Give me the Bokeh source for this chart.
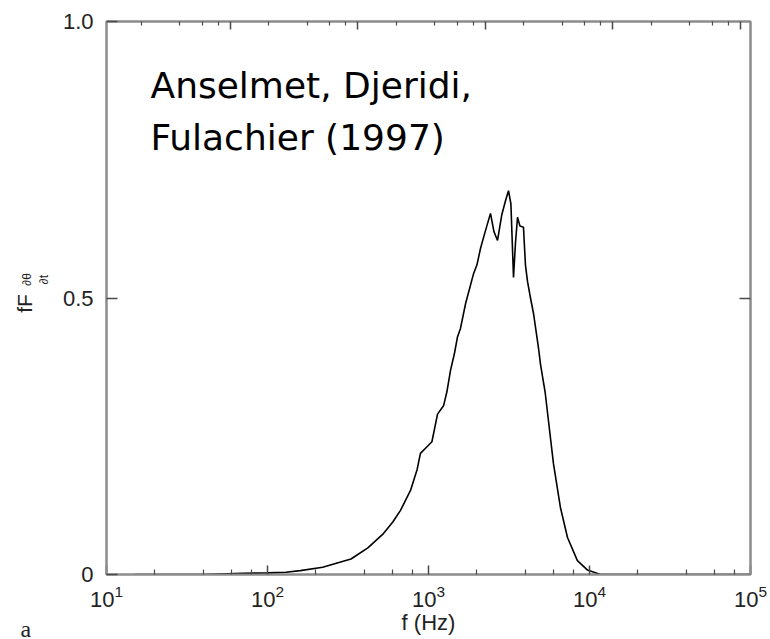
import math
from bokeh.plotting import figure
from bokeh.models import (LogAxis, LinearAxis, FixedTicker, Range1d, LogScale, Label,
                          LogTickFormatter)
from bokeh.embed import file_html
from bokeh.resources import INLINE

# ---- data ----
freq_hz = [15, 20, 40, 70, 100, 130, 160, 220, 330, 420, 525, 600, 670, 773, 850,
           891, 986, 1050, 1138, 1240, 1300, 1370, 1450, 1515, 1580, 1700, 1905,
           2000, 2105, 2250, 2427, 2550, 2684, 2850, 3008, 3140, 3250, 3373, 3470,
           3572, 3700, 3890, 4000, 4120, 4300, 4490, 4820, 4963, 5300, 5560, 5975,
           6600, 7300, 8410, 9720, 11700, 20000, 100000]
f_spectrum = [0.0, 0.0, 0.0, 0.002, 0.003, 0.004, 0.007, 0.013, 0.028, 0.048, 0.074,
              0.095, 0.116, 0.152, 0.19, 0.219, 0.232, 0.24, 0.29, 0.305, 0.33, 0.369,
              0.40, 0.43, 0.445, 0.49, 0.544, 0.56, 0.59, 0.62, 0.653, 0.62, 0.604,
              0.65, 0.676, 0.694, 0.67, 0.537, 0.60, 0.646, 0.63, 0.628, 0.56, 0.53,
              0.50, 0.472, 0.41, 0.38, 0.33, 0.278, 0.2, 0.121, 0.067, 0.025, 0.008,
              0.0, 0.0, 0.0]

x_major = [1e1, 1e2, 1e3, 1e4, 1e5]
y_major = [0, 0.5, 1.0]
y_labels = {0: "0", 0.5: "0.5", 1: "1.0"}
title_lines = ["Anselmet, Djeridi,", "Fulachier (1997)"]

# ---- layout ----
W, H = 770, 639
FL, FR, FT, FB = 106, 750, 21, 574
FRAME_COL = "#8c8c8c"
TICK_COL = "#4a4a4a"
TXT = "#222222"

def sx(px):
    return 10 ** (1 + 4 * (px - FL) / (FR - FL))

def sy(py):
    return (FB - py) / (FB - FT)

p = figure(width=W, height=H, x_axis_type=None, y_axis_type=None,
           x_range=Range1d(10, 1e5), y_range=Range1d(0, 1.0),
           output_backend="svg", toolbar_location=None,
           min_border_left=FL, min_border_right=W - FR,
           min_border_top=FT, min_border_bottom=H - FB)
p.x_scale = LogScale()
p.grid.visible = False
p.background_fill_color = "white"
p.border_fill_color = "white"
p.outline_line_color = FRAME_COL
p.outline_line_width = 2

minor = [k * d for d in [1e1, 1e2, 1e3, 1e4] for k in (2, 4, 6, 8)]

def style_axis(ax, tick_in, minor_in):
    ax.axis_line_color = FRAME_COL
    ax.axis_line_width = 2
    ax.major_tick_line_color = TICK_COL
    ax.major_tick_line_width = 1.5
    ax.minor_tick_line_color = TICK_COL
    ax.minor_tick_line_width = 1.2
    ax.major_tick_in = tick_in
    ax.major_tick_out = 0
    ax.minor_tick_in = minor_in
    ax.minor_tick_out = 0

def hide_labels(ax):
    ax.major_label_text_font_size = "6px"
    ax.major_label_text_alpha = 0
    ax.major_label_standoff = 0

# bottom axis
xb = LogAxis(ticker=FixedTicker(ticks=x_major, minor_ticks=minor),
             formatter=LogTickFormatter())
style_axis(xb, 9, 5)
xb.major_label_text_font = "Liberation Sans"
xb.major_label_text_font_size = "22px"
xb.major_label_text_color = TXT
xb.major_label_standoff = 10
xb.axis_label = "f (Hz)"
xb.axis_label_text_font = "Liberation Sans"
xb.axis_label_text_font_size = "22px"
xb.axis_label_text_font_style = "normal"
xb.axis_label_text_color = TXT
xb.axis_label_standoff = 0
p.add_layout(xb, "below")

# top axis (its own decade spacing, unlabeled)
p.extra_x_ranges = {"top": Range1d(10 ** 1.0275, 10 ** 6.0786)}
p.extra_x_scales = {"top": LogScale()}
top_major = [1e2, 1e3, 1e4, 1e5, 1e6]
top_minor = [k * d for d in [1e1, 1e2, 1e3, 1e4, 1e5] for k in (2, 4, 6, 8)]
xt = LogAxis(x_range_name="top", ticker=FixedTicker(ticks=top_major, minor_ticks=top_minor))
style_axis(xt, 8, 4)
hide_labels(xt)
p.add_layout(xt, "above")

# left axis
yl = LinearAxis(ticker=FixedTicker(ticks=y_major, minor_ticks=[]),
                major_label_overrides=y_labels)
style_axis(yl, 11, 0)
yl.major_label_text_font = "Liberation Sans"
yl.major_label_text_font_size = "22px"
yl.major_label_text_color = TXT
yl.major_label_standoff = 13
p.add_layout(yl, "left")

# right axis
yr = LinearAxis(ticker=FixedTicker(ticks=[0.5], minor_ticks=[]))
style_axis(yr, 11, 0)
hide_labels(yr)
p.add_layout(yr, "right")

# the spectrum
p.line(freq_hz, f_spectrum, line_color="black", line_width=1.6)

# title text inside the frame
for txt, base in zip(title_lines, [85, 137]):
    p.add_layout(Label(x=sx(150), y=sy(base), text=txt, text_font="DejaVu Sans",
                       text_font_size="36px", text_color="black",
                       text_baseline="alphabetic", text_align="left"))

# texts outside the frame, placed in canvas pixels (hosted by side panels)
def canvas_label(side, x, y, text, **kw):
    p.add_layout(Label(x=x, y=y, x_units="canvas", y_units="canvas", text=text, **kw), side)

canvas_label("left", 24, 303, "fF", angle=math.pi / 2, text_font="Liberation Sans",
             text_font_size="21px", text_color=TXT, text_align="center",
             text_baseline="alphabetic")
canvas_label("left", 26, 279, "\u2202\u03b8", angle=math.pi / 2, text_font="Liberation Sans",
             text_font_size="12px", text_color=TXT, text_align="center",
             text_baseline="alphabetic")
canvas_label("left", 43, 279, "\u2202t", angle=math.pi / 2, text_font="Liberation Sans",
             text_font_size="12px", text_color=TXT, text_align="center",
             text_baseline="alphabetic")
canvas_label("right", 20, 628, "a", text_font="Liberation Serif", text_font_size="24px",
             text_color=TXT, text_baseline="alphabetic", text_align="left")

open("out.html", "w").write(file_html(p, INLINE))
